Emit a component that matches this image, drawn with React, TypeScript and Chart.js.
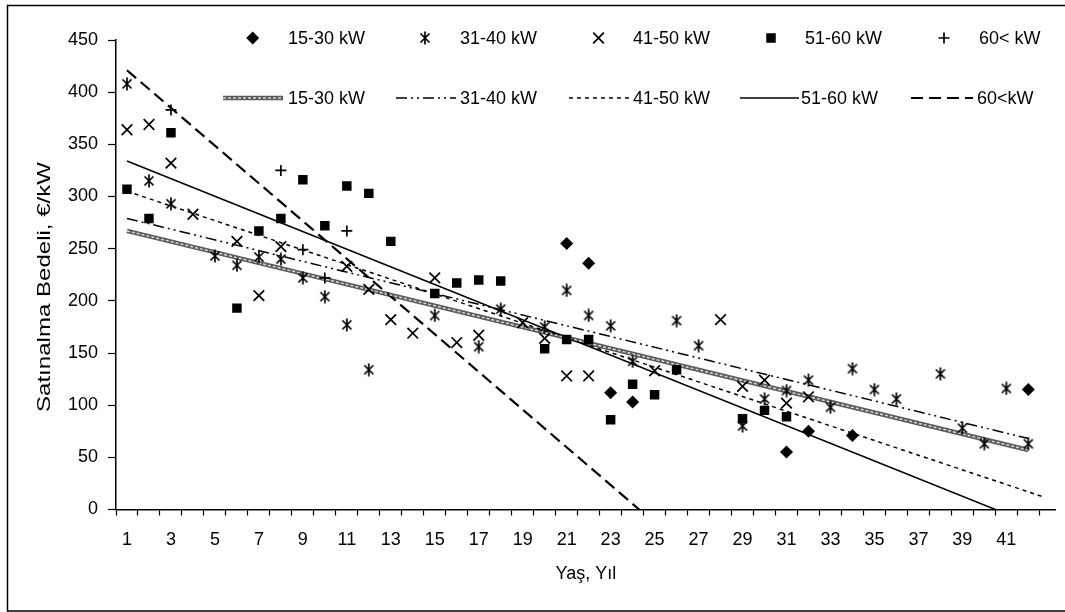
import React, { useEffect, useRef } from 'react';
import Chart from 'chart.js/auto';

const FONT = '"Liberation Sans", Arial, sans-serif';
const FS = 18;

// Legend names
const markerNames = ['15-30 kW', '31-40 kW', '41-50 kW', '51-60 kW', '60< kW'];
const trendNames = ['15-30 kW', '31-40 kW', '41-50 kW', '51-60 kW', '60<kW'];

// Axis titles
const xTitle = 'Yaş, Yıl';
const yTitle = 'Satınalma Bedeli, €/kW';

// X tick labels (age in years)
const xTickLabels = ['1', '3', '5', '7', '9', '11', '13', '15', '17', '19', '21', '23', '25', '27', '29', '31', '33', '35', '37', '39', '41'];

// 15-30 kW (diamonds)
const x1530 = [21, 22, 23, 24, 31, 32, 34, 42];
const y1530 = [255, 236, 112, 103, 55, 75, 71, 115];

// 31-40 kW (stars)
const x3140 = [1, 2, 3, 5, 6, 7, 8, 9, 10, 11, 12, 15, 17, 18, 20, 21, 22, 23, 24, 26, 27, 29, 30, 31, 32, 33, 34, 35, 36, 38, 39, 40, 41, 42];
const y3140 = [408, 315, 293, 243, 234, 242, 240, 222, 204, 177, 134, 186, 156, 192, 175, 210, 186, 176, 142, 181, 157, 80, 106, 114, 124, 98, 135, 115, 106, 130, 78, 63, 116, 63];

// 41-50 kW (x marks)
const x4150 = [1, 2, 3, 4, 6, 7, 8, 11, 12, 13, 14, 15, 16, 17, 19, 20, 21, 22, 25, 28, 29, 30, 31, 32];
const y4150 = [364, 369, 332, 283, 257, 205, 252, 233, 211, 182, 169, 222, 160, 167, 179, 164, 128, 128, 133, 182, 118, 124, 102, 108];

// 51-60 kW (squares)
const x5160 = [1, 2, 3, 6, 7, 8, 9, 10, 11, 12, 13, 15, 16, 17, 18, 20, 21, 22, 23, 24, 25, 26, 29, 30, 31];
const y5160 = [307, 279, 361, 193, 267, 279, 316, 272, 310, 303, 257, 207, 217, 220, 219, 154, 163, 163, 86, 120, 110, 134, 87, 95, 89];

// 60< kW (plus)
const x60 = [3, 8, 9, 10, 11];
const y60 = [383, 325, 249, 222, 267];

// Trend lines (end points)
const t1530X = [1, 42];
const t1530Y = [267, 57];
const t3140X = [1, 42];
const t3140Y = [279, 68];
const t4150X = [1, 42.7];
const t4150Y = [305, 12];
const t5160X = [1, 40.5];
const t5160Y = [334, 0];
const t60X = [1, 24.3];
const t60Y = [421, 0];

const zip = (xs: number[], ys: number[]) => xs.map((x, i) => ({ x, y: ys[i] }));

const DASH_3140 = [11, 4, 2, 4, 2, 4];
const DASH_4150 = [4, 4];
const DASH_60 = [12, 6];

function makeStar(): HTMLCanvasElement {
  const c = document.createElement('canvas');
  c.width = 14;
  c.height = 14;
  const g = c.getContext('2d')!;
  g.strokeStyle = '#000';
  g.lineWidth = 1.7;
  g.beginPath();
  g.moveTo(2.5, 2.5);
  g.lineTo(11.5, 11.5);
  g.moveTo(11.5, 2.5);
  g.lineTo(2.5, 11.5);
  g.moveTo(7, 0.5);
  g.lineTo(7, 13.5);
  g.stroke();
  return c;
}

export default function App() {
  const ref = useRef<HTMLCanvasElement | null>(null);

  useEffect(() => {
    const canvas = ref.current;
    if (!canvas) return;
    const star = makeStar();

    const drawMarker = (g: CanvasRenderingContext2D, kind: number, x: number, y: number) => {
      g.save();
      g.strokeStyle = '#000';
      g.fillStyle = '#000';
      g.lineWidth = 1.7;
      if (kind === 0) {
        g.beginPath();
        g.moveTo(x, y - 6.5);
        g.lineTo(x + 6.5, y);
        g.lineTo(x, y + 6.5);
        g.lineTo(x - 6.5, y);
        g.closePath();
        g.fill();
      } else if (kind === 1) {
        g.drawImage(star, x - 7, y - 7);
      } else if (kind === 2) {
        g.beginPath();
        g.moveTo(x - 5.3, y - 5.3);
        g.lineTo(x + 5.3, y + 5.3);
        g.moveTo(x + 5.3, y - 5.3);
        g.lineTo(x - 5.3, y + 5.3);
        g.stroke();
      } else if (kind === 3) {
        g.fillRect(x - 4.75, y - 4.75, 9.5, 9.5);
      } else {
        g.beginPath();
        g.moveTo(x - 5.5, y);
        g.lineTo(x + 5.5, y);
        g.moveTo(x, y - 5.5);
        g.lineTo(x, y + 5.5);
        g.stroke();
      }
      g.restore();
    };

    const drawSample = (g: CanvasRenderingContext2D, kind: number, x0: number, x1: number, y: number) => {
      g.save();
      g.strokeStyle = '#000';
      g.lineCap = 'butt';
      if (kind === 0) {
        g.strokeStyle = '#5a5a5a';
        g.lineWidth = 4.5;
        g.beginPath();
        g.moveTo(x0, y);
        g.lineTo(x1, y);
        g.stroke();
        g.strokeStyle = 'rgba(255,255,255,0.75)';
        g.lineWidth = 1.5;
        g.setLineDash([3, 2]);
        g.beginPath();
        g.moveTo(x0, y);
        g.lineTo(x1, y);
        g.stroke();
      } else {
        g.lineWidth = kind === 4 ? 2.2 : 1.5;
        g.setLineDash(kind === 1 ? DASH_3140 : kind === 2 ? DASH_4150 : kind === 4 ? DASH_60 : []);
        g.beginPath();
        g.moveTo(x0, y);
        g.lineTo(x1, y);
        g.stroke();
      }
      g.restore();
    };

    const framePlugin = {
      id: 'frameLegend',
      afterDraw(chart: any) {
        const g: CanvasRenderingContext2D = chart.ctx;
        g.save();
        g.strokeStyle = '#000';
        g.lineWidth = 1.5;
        g.strokeRect(7.5, 5.5, 1100, 605.5);
        g.font = `${FS}px ${FONT}`;
        g.fillStyle = '#000';
        g.textBaseline = 'middle';
        g.textAlign = 'left';
        const row1Y = 38;
        const row2Y = 98;
        const markerX = [252.7, 425, 598.5, 771, 944];
        const text1X = [288, 460, 633, 805, 979];
        const sampleX = [[223, 283], [396, 456], [569, 629], [740, 799], [911, 973]];
        const text2X = [288, 460, 633, 801, 977];
        for (let i = 0; i < 5; i++) {
          drawMarker(g, i, markerX[i], row1Y);
          g.fillText(markerNames[i], text1X[i], row1Y + 1);
          drawSample(g, i, sampleX[i][0], sampleX[i][1], row2Y);
          g.fillText(trendNames[i], text2X[i], row2Y + 1);
        }
        // Y axis title (elongated along its direction as in the original)
        const w = g.measureText(yTitle).width;
        const target = 250;
        g.translate(45, 287);
        g.rotate(-Math.PI / 2);
        g.scale(target / w, 1);
        g.textAlign = 'center';
        g.fillText(yTitle, 0, 0);
        g.restore();
      },
    };

    const pointBase = { showLine: false, borderColor: '#000', backgroundColor: '#000', order: 0 };
    const lineBase = { showLine: true, pointRadius: 0, fill: false, borderColor: '#000', order: 2 };

    const chart = new Chart(canvas, {
      type: 'scatter',
      data: {
        datasets: [
          { ...pointBase, label: '15-30 kW', data: zip(x1530, y1530), pointStyle: 'rectRot', pointRadius: 6.5, borderWidth: 0 },
          { ...pointBase, label: '31-40 kW', data: zip(x3140, y3140), pointStyle: star, pointRadius: 6 },
          { ...pointBase, label: '41-50 kW', data: zip(x4150, y4150), pointStyle: 'crossRot', pointRadius: 7.5, borderWidth: 1.7 },
          { ...pointBase, label: '51-60 kW', data: zip(x5160, y5160), pointStyle: 'rect', pointRadius: 6.7, borderWidth: 0 },
          { ...pointBase, label: '60< kW', data: zip(x60, y60), pointStyle: 'cross', pointRadius: 5.5, borderWidth: 1.7 },
          { ...lineBase, label: 'trend 15-30 texture', data: zip(t1530X, t1530Y), borderColor: 'rgba(255,255,255,0.75)', borderWidth: 1.5, borderDash: [3, 2], order: 1 },
          { ...lineBase, label: 'trend 15-30 kW', data: zip(t1530X, t1530Y), borderColor: '#5a5a5a', borderWidth: 4.5, order: 3 },
          { ...lineBase, label: 'trend 31-40 kW', data: zip(t3140X, t3140Y), borderWidth: 1.5, borderDash: DASH_3140 },
          { ...lineBase, label: 'trend 41-50 kW', data: zip(t4150X, t4150Y), borderWidth: 1.5, borderDash: DASH_4150 },
          { ...lineBase, label: 'trend 51-60 kW', data: zip(t5160X, t5160Y), borderWidth: 1.5 },
          { ...lineBase, label: 'trend 60<kW', data: zip(t60X, t60Y), borderWidth: 2.2, borderDash: DASH_60 },
        ] as any,
      },
      options: {
        responsive: false,
        animation: false,
        devicePixelRatio: 1,
        layout: { padding: { top: 40, left: 0, right: 0, bottom: 0 } },
        plugins: {
          legend: { display: false },
          tooltip: { enabled: false },
        },
        scales: {
          x: {
            type: 'linear',
            min: 0.5,
            max: 43.25,
            afterBuildTicks: (scale: any) => {
              const t: any[] = [];
              for (let v = 0.5; v <= 43.01; v += 0.5) t.push({ value: v });
              scale.ticks = t;
            },
            afterFit: (scale: any) => {
              scale.height = 102.5;
            },
            grid: {
              display: true,
              drawOnChartArea: false,
              drawTicks: true,
              tickLength: 6,
              tickWidth: 1.2,
              tickColor: (c: any) =>
                c.tick && Math.abs((c.tick.value % 1) - 0.5) < 1e-6 ? '#000' : 'rgba(0,0,0,0)',
            },
            border: { display: true, color: '#000', width: 1.5 },
            ticks: {
              autoSkip: false,
              maxRotation: 0,
              minRotation: 0,
              padding: 14,
              color: '#000',
              font: { family: FONT, size: FS },
              callback: (v: any) => {
                const s = String(v);
                return xTickLabels.includes(s) ? s : '';
              },
            },
            title: {
              display: true,
              text: xTitle,
              color: '#000',
              font: { family: FONT, size: FS },
              padding: { top: 0, bottom: 27 },
            },
          },
          y: {
            type: 'linear',
            min: 0,
            max: 450,
            afterFit: (scale: any) => {
              scale.width = 116;
            },
            grid: {
              display: true,
              drawOnChartArea: false,
              drawTicks: true,
              tickLength: 8,
              tickWidth: 1.2,
              tickColor: '#000',
            },
            border: { display: true, color: '#000', width: 1.5 },
            ticks: {
              stepSize: 50,
              padding: 10,
              color: '#000',
              font: { family: FONT, size: FS },
            },
            title: { display: false, text: yTitle },
          },
        },
      } as any,
      plugins: [framePlugin],
    });

    return () => {
      chart.destroy();
    };
  }, []);

  return (
    <div style={{ position: 'absolute', left: 0, top: 0, width: 1065, height: 612, background: '#fff' }}>
      <canvas ref={ref} width={1065} height={612} style={{ display: 'block', width: 1065, height: 612 }} />
    </div>
  );
}
